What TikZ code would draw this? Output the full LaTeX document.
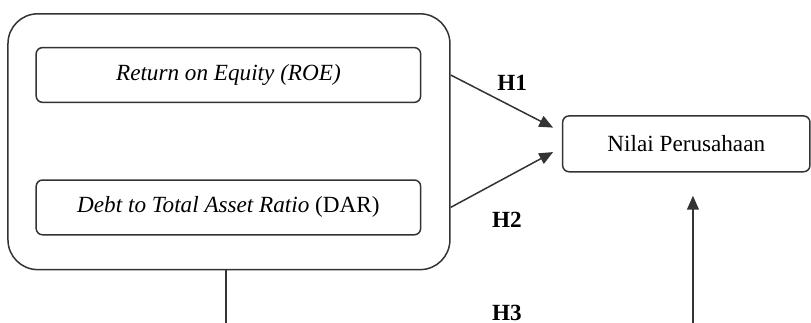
\documentclass[tikz,border=0pt]{standalone}
\usepackage{fontspec}
\setmainfont{Liberation Serif}
\usetikzlibrary{positioning,arrows.meta}

\begin{document}
\begin{tikzpicture}[
  group/.style={rectangle, draw=black!80, line width=0.8pt, rounded corners=0.56cm, minimum width=8.31cm, minimum height=4.81cm},
  var/.style={rectangle, draw=black!80, line width=0.8pt, rounded corners=0.12cm, minimum width=7.23cm, minimum height=1.03cm, font=\fontsize{12.4}{14}\selectfont, align=center},
  hyp/.style={font=\fontsize{12.4}{14}\selectfont\bfseries},
  link/.style={draw=black!80, line width=0.8pt, -{Triangle[length=0.26cm,width=0.22cm]}}
]
\useasboundingbox (0,0) rectangle (15.25,6.07);

% Independent variables
\node[group] (outer) at (4.305,3.405) {};
\node[var] (roe) at (4.295,4.66) {\textit{Return on Equity (ROE)}};
\node[var] (dar) at (4.295,2.17) {\textit{Debt to Total Asset Ratio} (DAR)};

% Dependent variable
\node[var, minimum width=4.65cm, minimum height=1.05cm] (nilai) at (12.905,3.365) {Nilai Perusahaan};

% Open ends at the bottom edge
\coordinate (down) at (4.25,0);
\coordinate (up) at (13.03,0);
\coordinate (tip1) at (10.40,3.67);
\coordinate (tip2) at (10.40,3.21);
\coordinate (tip3) at (13.03,2.39);

% Edges
\draw[link] (roe -| outer.east) -- (tip1);
\draw[link] (dar -| outer.east) -- (tip2);
\draw[draw=black!80, line width=0.8pt] (down |- outer.south) -- (down);
\draw[link] (up) -- (tip3);

% Labels
\node[hyp] (h1) at (9.63,4.51) {H1};
\node[hyp] (h2) at (9.53,1.94) {H2};
\node[hyp] (h3) at (9.53,0.19) {H3};

\end{tikzpicture}
\end{document}
